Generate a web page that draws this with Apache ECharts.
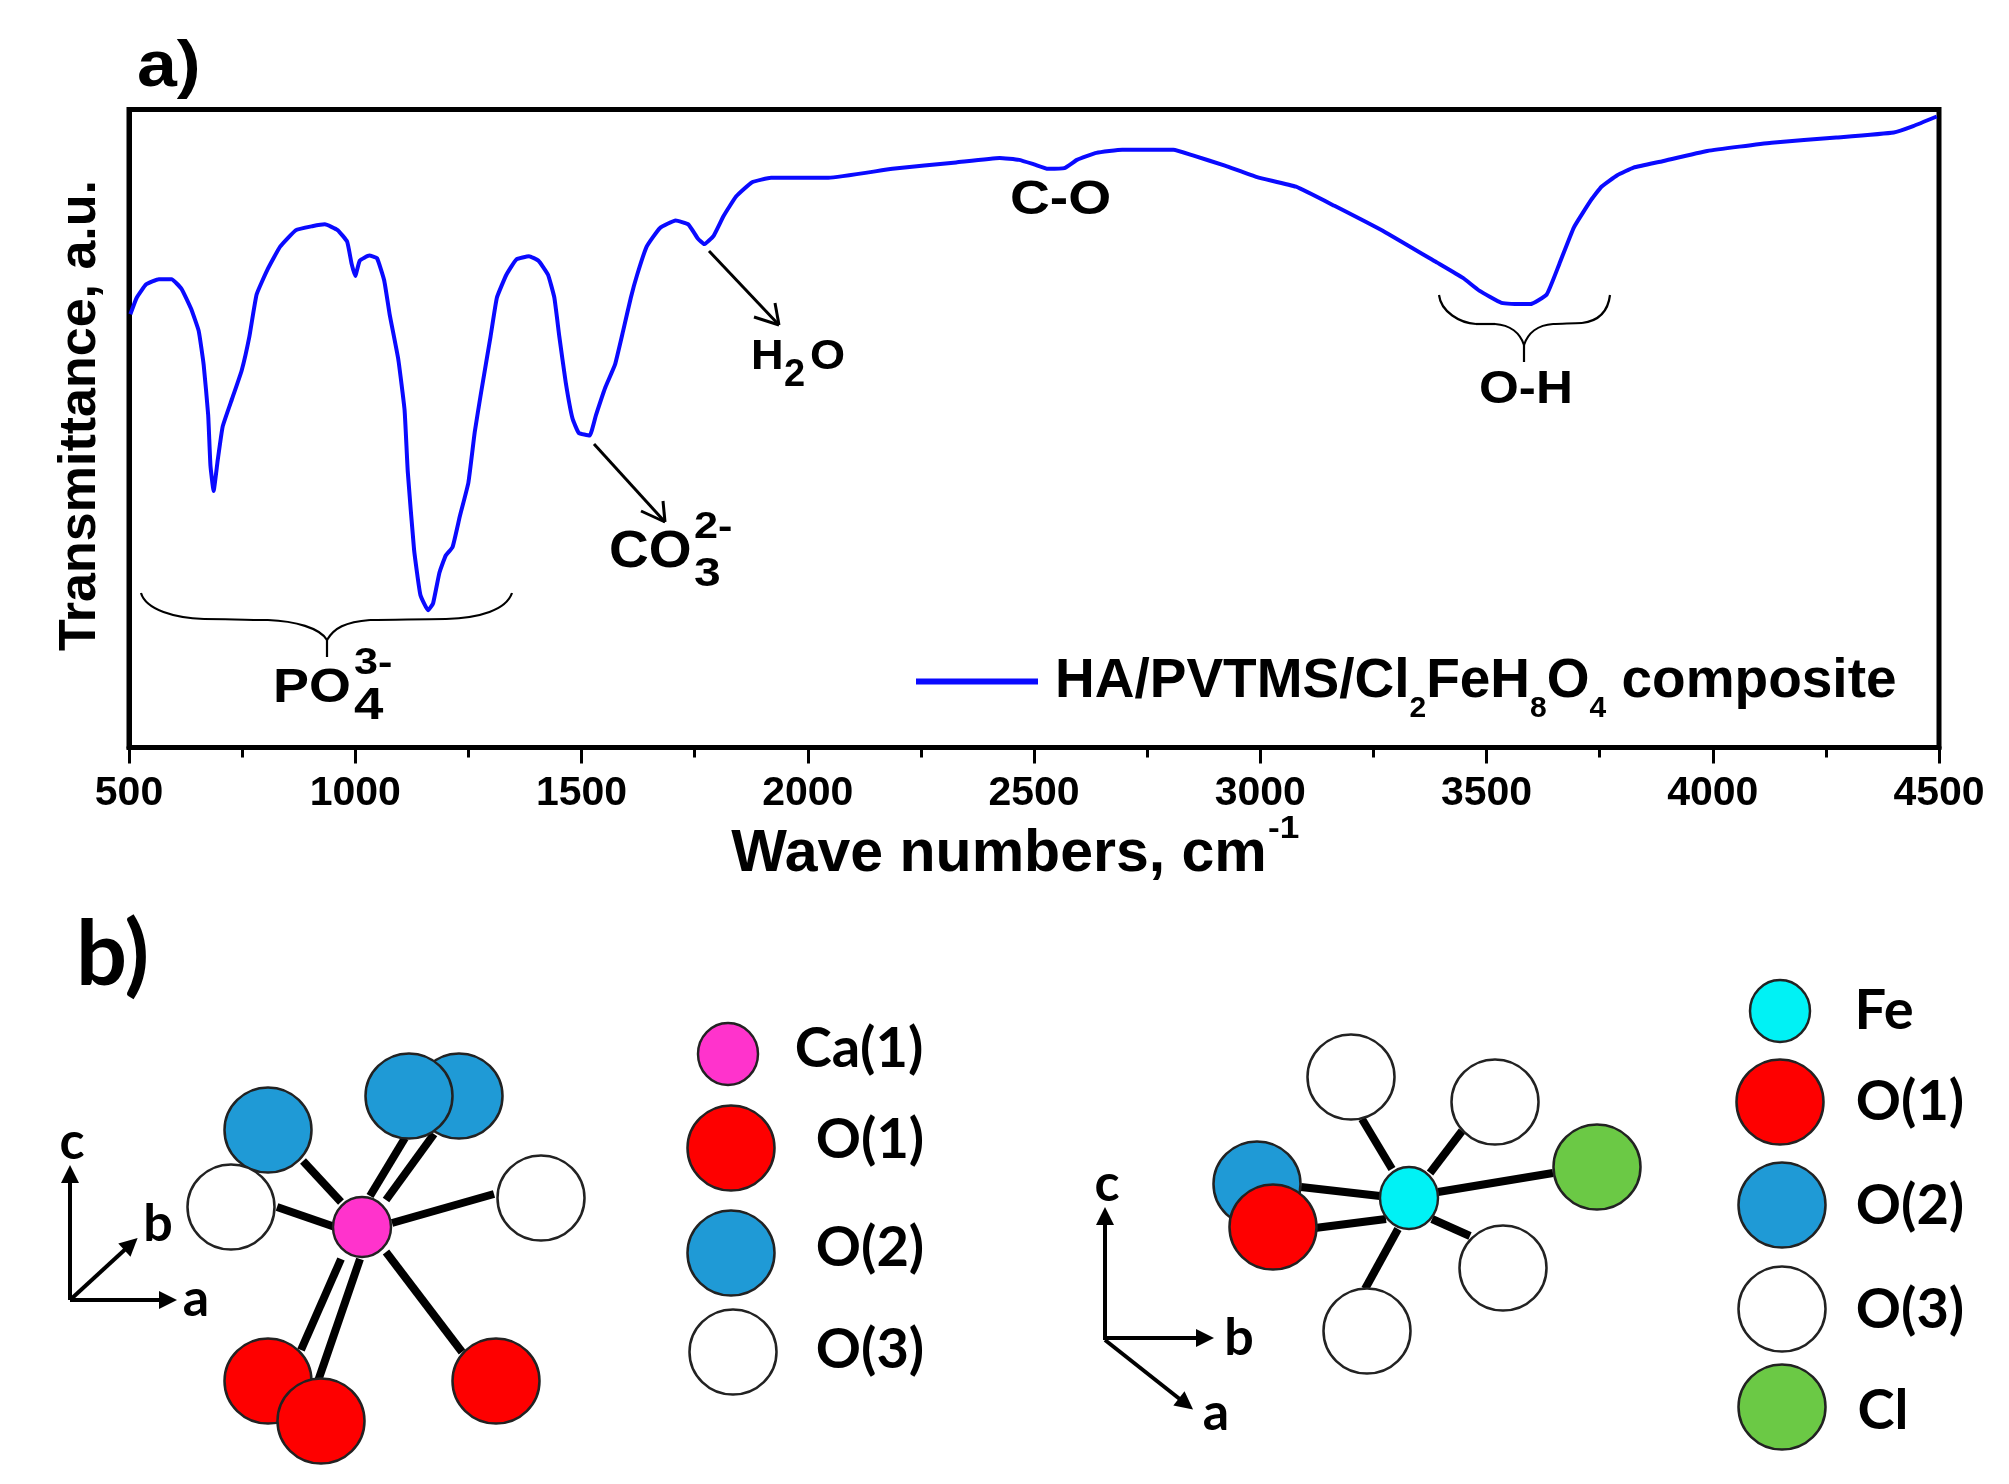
<!DOCTYPE html>
<html><head><meta charset="utf-8">
<style>html,body{margin:0;padding:0;background:#fff}#c{width:2009px;height:1484px}</style>
<script src="https://cdn.jsdelivr.net/npm/echarts@6/dist/echarts.min.js"></script>
</head><body><div id="c"></div>
<script>
const waveNumbers=[503,517,538,566,594,616,637,654,665,675,680,687,696,707,728,749,766,782,806,834,869,905,933,961,982,992,1000,1010,1031,1048,1064,1076,1095,1109,1116,1130,1144,1161,1172,1186,1200,1215,1231,1250,1264,1278,1299,1313,1334,1356,1384,1405,1426,1440,1451,1465,1480,1494,1518,1532,1553,1574,1592,1609,1623,1644,1673,1708,1736,1757,1771,1792,1814,1842,1877,1919,2046,2187,2328,2424,2467,2500,2531,2567,2595,2638,2695,2808,2851,2922,2993,3079,3164,3278,3391,3448,3484,3533,3597,3633,3661,3693,3732,3754,3789,3825,3889,3988,4130,4273,4400,4443,4495];
const transmittance=[67.9,70.5,72.6,73.4,73.4,71.9,68.8,65.3,60.0,52.1,44.2,40.2,45.0,50.3,54.7,59.1,64.4,71.0,74.9,78.5,81.1,81.7,82.0,81.1,79.3,75.8,73.9,76.3,77.1,76.7,73.2,67.9,60.9,52.9,43.3,31.0,23.9,21.5,22.6,27.4,30.1,31.4,36.2,41.5,49.4,55.6,64.4,70.5,74.1,76.5,77.0,76.3,74.1,70.5,64.4,57.3,51.6,49.3,48.9,52.1,56.5,60.0,65.3,70.5,74.1,78.5,81.4,82.6,82.0,79.8,78.9,80.2,83.3,86.4,88.6,89.3,89.3,90.7,91.7,92.4,92.1,91.4,90.7,90.8,92.1,93.2,93.7,93.7,92.8,91.2,89.4,87.9,84.9,80.7,76.0,73.6,71.6,69.7,69.5,71.0,75.8,81.5,85.9,87.9,89.7,90.9,91.9,93.5,94.8,95.6,96.4,97.4,98.9];
const seriesName='HA/PVTMS/Cl2FeH8O4 composite';

// Panel b schematics: [x, y, width, height, colour]
const RED='#fe0000',BLUE='#1f9ad6',WHITE='#ffffff',PINK='#ff33cc',CYAN='#00f2f5',GREEN='#6bc945';
const atoms=[
 [459,1096,87,85,BLUE],[409,1096,87,85,BLUE],[268,1130,87,85,BLUE],[231,1207,87,85,WHITE],[541,1198,87,85,WHITE],
 [362,1227,58,60,PINK],[268,1381,87,85,RED],[321,1421,87,85,RED],[496,1381,87,85,RED],
 [728,1054,60,62,PINK],[731,1148,87,85,RED],[731,1253,87,85,BLUE],[733,1352,87,85,WHITE],
 [1351,1077,87,85,WHITE],[1495,1102,87,85,WHITE],[1597,1167,87,85,GREEN],[1257,1184,87,85,BLUE],[1273,1227,87,85,RED],
 [1409,1198,58,62,CYAN],[1503,1268,87,85,WHITE],[1367,1331,87,85,WHITE],
 [1780,1011,60,62,CYAN],[1780,1102,87,85,RED],[1782,1205,87,85,BLUE],[1782,1309,87,85,WHITE],[1782,1407,87,85,GREEN]];
const bonds=[
 [303,1161,341,1202],[277,1207,335,1227],[405,1138,370,1196],[434,1134,386,1200],[494,1194,392,1223],
 [341,1259,301,1350],[360,1259,318,1381],[386,1252,462,1352],
 [1362,1119,1392,1169],[1462,1131,1430,1173],[1553,1173,1438,1192],[1301,1187,1380,1196],[1315,1228,1386,1219],[1432,1219,1470,1236],[1398,1229,1365,1289]];
const axisArrows=[[70,1300,70,1174],[70,1300,168,1300],[70,1300,131,1244],[1105,1340,1105,1216],[1105,1338,1205,1338],[1105,1340,1186,1404]];
const leaderLines=[[709,251,779,325],[754,317,779,325],[775,303,779,325],[594,444,665,522],[641,511,665,522],[663,501,665,522]];
const atomLabels=[['Ca(1)',859,1049],['O(1)',870,1140],['O(2)',870,1248],['O(3)',870,1350],['Fe',1884,1011],['O(1)',1910,1102],['O(2)',1910,1206],['O(3)',1910,1310],['Cl',1883,1411]];
const axisLetters=[['c',72,1142],['b',158,1224],['a',196,1299],['c',1107,1184],['b',1239,1338],['a',1216,1413]];
// Text notes: [text, left x, centre y, font size, horizontal stretch]
const notes=[['a)',137,68,64,1.12],['C-O',1010,201,48,1.15],['H',751,357,43,1.05],['2',784,376,38,1.0],['O',810,357,43,1.05],['O-H',1479,390,47,1.09],
 ['CO',609,553,52,1.06],['2-',694,528,36,1.2],['3',694,575,40,1.2],['PO',273,688,49,1.1],['3-',354,664,36,1.2],['4',354,707,44,1.2],['-1',1268,829,32,1.1]];
// Brace pieces: [x1,y1, cx1,cy1, cx2,cy2, x2,y2]
const braces=[
 [141,593,146,610,175,618,204,619],[204,619,225,619,245,620,268,620],[268,620,295,621,320,628,327,640],[327,640,327,645,327,650,327,657],
 [327,640,334,628,345,622,370,620],[370,620,395,620,420,619,446,619],[446,619,480,618,506,610,512,593],
 [1439,295,1441,312,1460,323,1476,324],[1476,324,1482,324,1489,324,1495,324],[1495,324,1510,325,1520,333,1524,345],[1524,345,1524,350,1524,356,1524,362],
 [1524,345,1528,333,1538,325,1553,324],[1553,324,1562,324,1572,323,1582,323],[1582,323,1598,321,1608,312,1610,295]];

const SANS='"Liberation Sans",Arial,sans-serif';
const labelSeries=(rows,size)=>({type:'scatter',xAxisIndex:1,yAxisIndex:1,z:4,symbolSize:1,itemStyle:{color:'rgba(0,0,0,0)',opacity:1},
   label:{show:true,position:'inside',formatter:p=>p.data[2],fontFamily:'Lato,sans-serif',fontWeight:'bold',fontSize:size,color:'#000',opacity:1},
   data:rows.map(a=>[a[1],a[2],a[0]])});
const chart=echarts.init(document.getElementById('c'),null,{renderer:'canvas'});
chart.setOption({
 backgroundColor:'#fff',animation:false,
 grid:[{left:129,top:109.5,width:1810,height:638,show:true,borderColor:'#000',borderWidth:5,backgroundColor:'transparent'},
       {left:0,top:0,width:2009,height:1484,show:false}],
 xAxis:[{type:'value',gridIndex:0,min:500,max:4500,interval:500,
   name:'Wave numbers, cm',nameLocation:'middle',nameGap:78,nameTextStyle:{fontFamily:SANS,fontWeight:'bold',fontSize:59,color:'#000',padding:[0,70,0,0]},
   axisLine:{show:true,onZero:false,lineStyle:{color:'#000',width:5}},
   axisTick:{show:true,length:16,lineStyle:{color:'#000',width:3}},
   minorTick:{show:true,splitNumber:2,length:10,lineStyle:{color:'#000',width:3}},
   splitLine:{show:false},axisLabel:{fontFamily:SANS,fontWeight:'bold',fontSize:41,color:'#000',margin:26,hideOverlap:false,showMinLabel:true,showMaxLabel:true,formatter:v=>String(v)}},
  {type:'value',gridIndex:1,min:0,max:2009,show:false}],
 yAxis:[{type:'value',gridIndex:0,min:0,max:100,name:'Transmittance, a.u.',nameLocation:'middle',nameGap:22,nameRotate:90,
   nameTextStyle:{fontFamily:SANS,fontWeight:'bold',fontSize:52,color:'#000',padding:[0,0,0,26]},
   axisLine:{show:true,lineStyle:{color:'#000',width:5}},axisTick:{show:false},axisLabel:{show:false},splitLine:{show:false}},
  {type:'value',gridIndex:1,min:0,max:1484,inverse:true,show:false}],
 legend:{show:true,left:911,top:649,itemWidth:122,itemHeight:6,itemGap:0,icon:'rect',data:[seriesName],
   formatter:()=>'{m|HA/PVTMS/Cl}{s|2}{m|FeH}{s|8}{m|O}{s|4}{m| composite}',
   textStyle:{padding:[0,0,0,12],rich:{m:{fontFamily:SANS,fontWeight:'bold',fontSize:55,color:'#000',lineHeight:84,verticalAlign:'middle'},
     s:{fontFamily:SANS,fontWeight:'bold',fontSize:30,color:'#000',lineHeight:6,verticalAlign:'bottom'}}}},
 series:[
  {name:seriesName,type:'line',xAxisIndex:0,yAxisIndex:0,smooth:0.12,showSymbol:false,symbol:'none',color:'#0a0aff',lineStyle:{color:'#0a0aff',width:4,join:'round'},
   data:waveNumbers.map((w,i)=>[w,transmittance[i]])},
  {type:'lines',coordinateSystem:'cartesian2d',xAxisIndex:1,yAxisIndex:1,symbol:'none',lineStyle:{color:'#000',width:3,opacity:1},
   data:leaderLines.map(s=>({coords:[[s[0],s[1]],[s[2],s[3]]]}))},
  {type:'lines',coordinateSystem:'cartesian2d',xAxisIndex:1,yAxisIndex:1,symbol:'none',lineStyle:{color:'#000',width:8,opacity:1},
   data:bonds.map(s=>({coords:[[s[0],s[1]],[s[2],s[3]]]}))},
  {type:'lines',coordinateSystem:'cartesian2d',xAxisIndex:1,yAxisIndex:1,symbol:['none','triangle'],symbolSize:18,lineStyle:{color:'#000',width:4,opacity:1},
   data:axisArrows.map(s=>({coords:[[s[0],s[1]],[s[2],s[3]]]}))},
  {type:'scatter',xAxisIndex:1,yAxisIndex:1,z:3,
   data:atoms.map(a=>({value:[a[0],a[1]],symbol:'circle',symbolSize:[a[2],a[3]],itemStyle:{color:a[4],borderColor:'#222',borderWidth:2.5,opacity:1}}))},
  labelSeries(atomLabels,56),
  labelSeries(axisLetters,52)
 ],
 graphic:[
  ...notes.map(n=>({type:'text',x:n[1],y:n[2],scaleX:n[4],z:20,style:{text:n[0],font:'bold '+n[3]+'px '+SANS,fill:'#000',textAlign:'left',textVerticalAlign:'middle'}})),
  {type:'text',x:76,y:956,z:20,style:{text:'b)',font:'bold 90px Lato,sans-serif',fill:'#000',textAlign:'left',textVerticalAlign:'middle'}},
  ...braces.map(b=>({type:'bezierCurve',z:20,shape:{x1:b[0],y1:b[1],cpx1:b[2],cpy1:b[3],cpx2:b[4],cpy2:b[5],x2:b[6],y2:b[7]},style:{fill:'none',stroke:'#000',lineWidth:2.2}}))
 ]
});
</script></body></html>
